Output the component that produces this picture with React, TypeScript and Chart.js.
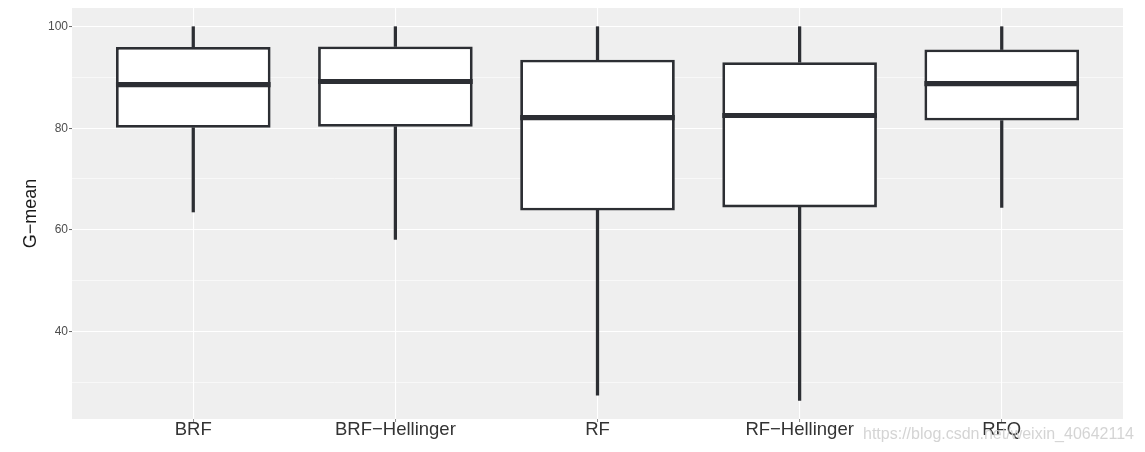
import React, { useEffect, useRef } from "react";
import { Chart, registerables } from "chart.js";
Chart.register(...registerables);

const categories = ["BRF", "BRF−Hellinger", "RF", "RF−Hellinger", "RFQ"];
const whiskerLow = [63.5, 58.1, 27.4, 26.4, 64.4];
const q1 = [80.1, 80.3, 63.8, 64.4, 81.5];
const medians = [88.6, 89.2, 82.1, 82.5, 88.8];
const q3 = [96.0, 96.1, 93.5, 93.0, 95.5];
const whiskerHigh = [100, 100, 100, 100, 100];
const yTicks = [30, 40, 50, 60, 70, 80, 90, 100];
const yLabelled = [40, 60, 80, 100];
const yTitle = "G−mean";
const watermark = "https://blog.csdn.net/weixin_40642114";

const FAMILY = "'Liberation Sans', Arial, Helvetica, sans-serif";
const DARK = "#2C2E33";
const PANEL = "#EFEFEF";

export default function App() {
  const ref = useRef<HTMLCanvasElement | null>(null);

  useEffect(() => {
    document.body.style.margin = "0";
    const canvas = ref.current;
    if (!canvas) return;

    const lo = Math.min(...whiskerLow);
    const hi = Math.max(...whiskerHigh);
    const pad = (hi - lo) * 0.05;

    const panelBg = {
      id: "panelBg",
      beforeDraw(chart: any) {
        const { ctx, chartArea } = chart;
        ctx.save();
        ctx.fillStyle = PANEL;
        ctx.fillRect(chartArea.left, chartArea.top, chartArea.right - chartArea.left, chartArea.bottom - chartArea.top);
        ctx.restore();
      },
    };

    const medianPlugin = {
      id: "medianLines",
      afterDatasetsDraw(chart: any) {
        const { ctx } = chart;
        const yScale = chart.scales.y;
        const meta = chart.getDatasetMeta(2);
        ctx.save();
        ctx.strokeStyle = DARK;
        ctx.lineWidth = 5.2;
        ctx.lineCap = "butt";
        meta.data.forEach((el: any, i: number) => {
          const y = yScale.getPixelForValue(medians[i]);
          ctx.beginPath();
          ctx.moveTo(el.x - el.width / 2, y);
          ctx.lineTo(el.x + el.width / 2, y);
          ctx.stroke();
        });
        ctx.restore();
      },
    };

    const watermarkPlugin = {
      id: "watermark",
      afterDraw(chart: any) {
        const { ctx } = chart;
        ctx.save();
        ctx.font = `16px ${FAMILY}`;
        ctx.fillStyle = "rgba(205,205,205,0.85)";
        ctx.textAlign = "left";
        ctx.textBaseline = "alphabetic";
        ctx.fillText(watermark, 863, 439);
        ctx.restore();
      },
    };

    const chart = new Chart(canvas, {
      type: "bar",
      data: {
        datasets: [
          {
            label: "lower whisker",
            data: categories.map((_, i) => ({ x: i, y: [whiskerLow[i], q1[i]] })),
            backgroundColor: DARK,
            borderWidth: 0,
            barThickness: 2.6,
            grouped: false,
            order: 2,
          } as any,
          {
            label: "upper whisker",
            data: categories.map((_, i) => ({ x: i, y: [q3[i], whiskerHigh[i]] })),
            backgroundColor: DARK,
            borderWidth: 0,
            barThickness: 2.6,
            grouped: false,
            order: 2,
          } as any,
          {
            label: "box",
            data: categories.map((_, i) => ({ x: i, y: [q1[i], q3[i]] })),
            backgroundColor: "#FFFFFF",
            borderColor: DARK,
            borderWidth: 2.8,
            borderSkipped: false,
            categoryPercentage: 1,
            barPercentage: 0.765,
            grouped: false,
            order: 1,
          } as any,
        ],
      },
      options: {
        animation: false,
        responsive: true,
        maintainAspectRatio: false,
        layout: { padding: { top: 8, right: 22, left: 0, bottom: 0 } },
        plugins: {
          legend: { display: false },
          tooltip: { enabled: false },
        },
        scales: {
          x: {
            type: "linear",
            offset: false,
            min: -0.6,
            max: categories.length - 1 + 0.6,
            afterBuildTicks: (axis: any) => {
              axis.ticks = categories.map((_, i) => ({ value: i }));
            },
            afterFit: (axis: any) => {
              axis.height = 33;
              axis.paddingLeft = 0;
              axis.paddingRight = 0;
            },
            grid: {
              offset: false,
              color: "#FFFFFF",
              lineWidth: 1.1,
              drawTicks: true,
              tickLength: 3,
              tickColor: "#8A8A8A",
              tickWidth: 1,
            },
            border: { display: false },
            ticks: {
              callback: (v: any) => categories[Math.round(Number(v))] ?? "",
              font: { size: 18.5, family: FAMILY },
              color: "#333333",
              padding: -3,
              maxRotation: 0,
              autoSkip: false,
            },
          },
          y: {
            type: "linear",
            min: lo - pad,
            max: hi + pad,
            afterBuildTicks: (axis: any) => {
              axis.ticks = yTicks.map((v) => ({ value: v }));
            },
            afterFit: (axis: any) => {
              axis.width = 72;
              axis.paddingTop = 0;
              axis.paddingBottom = 0;
            },
            grid: {
              color: "#FFFFFF",
              lineWidth: (ctx: any) => (ctx.tick && yLabelled.includes(ctx.tick.value) ? 1.1 : 0.55),
              drawTicks: true,
              tickLength: 3,
              tickColor: (ctx: any) => (ctx.tick && yLabelled.includes(ctx.tick.value) ? "#666666" : "rgba(0,0,0,0)"),
              tickWidth: 1,
            },
            border: { display: false },
            ticks: {
              callback: (v: any) => (yLabelled.includes(Number(v)) ? String(v) : ""),
              font: { size: 12, family: FAMILY },
              color: "#4D4D4D",
              padding: 1,
              autoSkip: false,
            },
            title: {
              display: true,
              text: yTitle,
              font: { size: 18, family: FAMILY },
              color: "#1A1A1A",
              padding: { top: 20, bottom: 0 },
            },
          },
        },
      } as any,
      plugins: [panelBg, medianPlugin, watermarkPlugin],
    });

    return () => chart.destroy();
  }, []);

  return (
    <div style={{ position: "relative", width: 1145, height: 452 }}>
      <canvas ref={ref} />
    </div>
  );
}
